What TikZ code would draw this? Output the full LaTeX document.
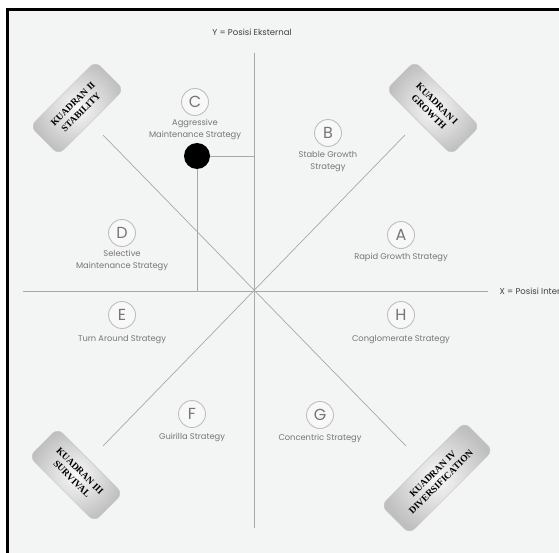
\documentclass[tikz,border=0pt]{standalone}
\usepackage{fontspec}
\usetikzlibrary{positioning}
\newfontfamily\labelfont{Poppins}
\newfontfamily\quadfont{Liberation Serif}
\definecolor{panel}{HTML}{F3F4F4}
\definecolor{axisgray}{HTML}{A8A8A8}
\definecolor{textgray}{HTML}{767676}
\tikzset{
  letter/.style={circle, draw=gray!50, line width=0.9pt, fill=white!40!panel, minimum size=27pt, inner sep=0pt, text=textgray, font=\labelfont\fontsize{16}{16}\selectfont},
  strategy/.style={align=center, inner sep=0pt, text=textgray, font=\labelfont\fontsize{8.3}{12.5}\selectfont},
  axislabel/.style={text=black!75, font=\labelfont\fontsize{8.5}{8.5}\selectfont},
  quadrant/.style={rounded corners=7pt, draw=gray!45, shading=radial, inner color=gray!5, outer color=gray!50, minimum height=40pt, align=center, font=\quadfont\bfseries\fontsize{9.5}{11.5}\selectfont},
  axisline/.style={draw=axisgray, line width=0.7pt}
}
\begin{document}
\begin{tikzpicture}[x=1pt,y=-1pt]
\useasboundingbox (0,0) rectangle (559,553);
% Frame
\fill[white] (0,0) rectangle (559,553);
\fill[panel] (7,10) rectangle (559,553);
\draw[line width=3pt] (7,553) -- (7,10) -- (559,10);

% Axes and diagonals
\coordinate (O) at (254,291);
\coordinate (ytop) at (254,53);
\coordinate (ybot) at (254,528);
\coordinate (xleft) at (23,291);
\coordinate (xright) at (488,291);
\coordinate (nw) at (103,135);
\coordinate (ne) at (405,135);
\coordinate (sw) at (103,446);
\coordinate (se) at (406,446);
\draw[axisline] (ytop) -- (ybot);
\draw[axisline] (xleft) -- (xright);
\draw[axisline] (nw) -- (se);
\draw[axisline] (ne) -- (sw);
\node[axislabel] (ylabel) at (252,32) {Y = Posisi Eksternal};
\node[axislabel, anchor=west] (xlabel) at (496,291) {X = Posisi Internal};

% Position of the firm
\node[circle, fill=black, minimum size=26pt, inner sep=0pt] (pos) at (197,156) {};
\draw[axisline] (pos) -- (pos -| O);
\draw[axisline] (pos) -- (pos |- O);

% Strategies
\node[letter] (A) at (401,235) {A};
\node[strategy, below=4pt of A] (A-text) {Rapid Growth Strategy};
\node[letter] (B) at (328,133) {B};
\node[strategy, below=4pt of B] (B-text) {Stable Growth\\Strategy};
\node[letter] (C) at (195,102) {C};
\node[strategy, below=3pt of C] (C-text) {Aggressive\\Maintenance Strategy};
\node[letter] (D) at (122,233) {D};
\node[strategy, below=3pt of D] (D-text) {Selective\\Maintenance Strategy};
\node[letter] (E) at (122,315) {E};
\node[strategy, below=6pt of E] (E-text) {Turn Around Strategy};
\node[letter] (F) at (192,414) {F};
\node[strategy, below=5pt of F] (F-text) {Guirilla Strategy};
\node[letter] (G) at (320,415) {G};
\node[strategy, below=5pt of G] (G-text) {Concentric Strategy};
\node[letter] (H) at (401,315) {H};
\node[strategy, below=6pt of H] (H-text) {Conglomerate Strategy};

% Quadrant badges
\node[quadrant, rotate=-45, minimum width=92pt] (q1) at (433,108) {KUADRAN I\\GROWTH};
\node[quadrant, rotate=45, minimum width=92pt] (q2) at (77,108) {KUADRAN II\\STABILITY};
\node[quadrant, rotate=-45, minimum width=92pt] (q3) at (76,475) {KUADRAN III\\SURVIVAL};
\node[quadrant, rotate=45, minimum width=118pt] (q4) at (437,478) {KUADRAN IV\\DIVERSIFICATION};
\end{tikzpicture}
\end{document}
